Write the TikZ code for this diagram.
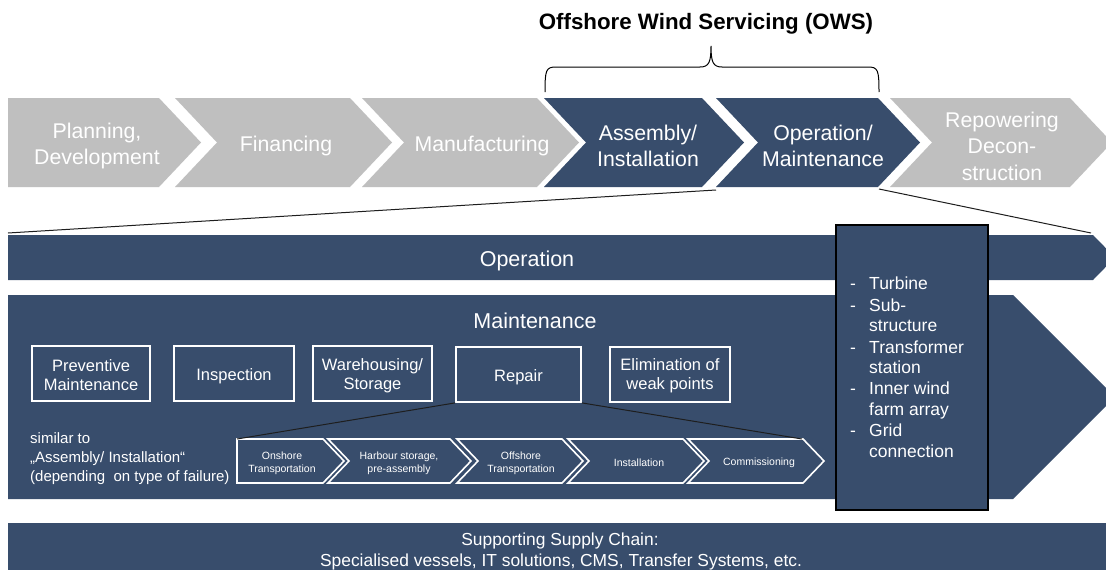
\documentclass[tikz,border=0pt]{standalone}
\usepackage{fontspec}
\setmainfont{Liberation Sans}
\definecolor{navy}{RGB}{56,77,108}
\definecolor{chgray}{RGB}{191,191,191}
\definecolor{linec}{RGB}{30,30,30}
\tikzset{
  chtxt/.style={text=white, font=\fontsize{21.3}{26.5}\selectfont, align=center, inner sep=0pt},
  bartxt/.style={text=white, font=\fontsize{21.5}{26}\selectfont, inner sep=0pt},
  boxtxt/.style={text=white, font=\fontsize{16.5}{19}\selectfont, align=center, inner sep=0pt},
  wbox/.style={draw=white, line width=1.8pt, minimum height=55pt, inner sep=0pt},
  smallch/.style={draw=white, line width=1.6pt, line join=miter},
  smalltxt/.style={text=white, font=\fontsize{10.5}{13}\selectfont, align=center, inner sep=0pt},
  listtxt/.style={text=white, font=\fontsize{17.5}{21}\selectfont, inner sep=0pt, anchor=base west},
  sidetxt/.style={text=white, font=\fontsize{15}{19}\selectfont, inner sep=0pt, anchor=base west},
  bottxt/.style={text=white, font=\fontsize{17.4}{21}\selectfont, inner sep=0pt, anchor=base},
  conn/.style={draw=linec, line width=1pt},
  bracec/.style={draw=black, line width=1pt},
}
\begin{document}
\begin{tikzpicture}[x=1pt,y=-1pt]
\fill[white] (0,0) rectangle (1106,570);
\useasboundingbox (0,0) rectangle (1106,570);
\begin{scope}
\clip (0,0) rectangle (1106,570);

% title and brace
\node[font=\bfseries\fontsize{22.3}{26}\selectfont, inner sep=0pt] (title) at (706,24) {Offshore Wind Servicing (OWS)};
\draw[bracec] (545,92) .. controls (545,70) and (546,67) .. (556,67) -- (700,67)
  .. controls (709,67) and (711,62) .. (711,46)
  .. controls (711,62) and (713,67) .. (722,67) -- (868,67)
  .. controls (878,67) and (879,70) .. (879,92);

% main chevrons
\fill[chgray] (8,98) -- (159,98) -- (201,142.5) -- (159,187) -- (8,187) -- cycle;
\fill[chgray] (175,98) -- (350,98) -- (392,142.5) -- (350,187) -- (175,187) -- (217,142.5) -- cycle;
\fill[chgray] (362,98) -- (537,98) -- (579,142.5) -- (537,187) -- (362,187) -- (404,142.5) -- cycle;
\fill[navy] (544,98) -- (702,98) -- (744,142.5) -- (702,187) -- (544,187) -- (586,142.5) -- cycle;
\fill[navy] (716,98) -- (878,98) -- (920,142.5) -- (878,187) -- (716,187) -- (758,142.5) -- cycle;
\fill[chgray] (890,98) -- (1070,98) -- (1112,142.5) -- (1070,187) -- (890,187) -- (932,142.5) -- cycle;

\node[chtxt] (t1) at (97,146) {Planning,\\Development};
\node[chtxt] (t2) at (286,146) {Financing};
\node[chtxt] (t3) at (482,146) {Manufacturing};
\node[chtxt] (t4) at (648,146) {Assembly/\\Installation};
\node[chtxt] (t5) at (823,146) {Operation/\\Maintenance};
\node[chtxt] (t6) at (1002,146) {Repowering\\Decon-\\struction};

\coordinate (c5bl) at (716,190);
\coordinate (c5br) at (879,189);

% operation bar
\fill[navy] (8,235) -- (1093,235) -- (1115,257.5) -- (1093,280) -- (8,280) -- cycle;
\coordinate (opL) at (8,233);
\coordinate (opR) at (1091,233);
\node[bartxt] (oper) at (527,261) {Operation};

% maintenance block
\fill[navy] (8,295) -- (1013,295) -- (1115,397) -- (1013,499) -- (8,499) -- cycle;
\node[bartxt] (maint) at (535,321) {Maintenance};

% zoom lines
\draw[conn] (c5bl) -- (opL);
\draw[conn] (c5br) -- (opR);

% boxes
\node[wbox, minimum width=118pt] (prev) at (91,373.5) {};
\node[wbox, minimum width=120pt] (insp) at (234,373.5) {};
\node[wbox, minimum width=119pt] (ware) at (372.5,373.5) {};
\node[wbox, minimum width=125pt] (repair) at (518.5,374.5) {};
\node[wbox, minimum width=120pt] (elim) at (670,374.5) {};
\node[boxtxt] (prevt) at (91,375.5) {Preventive\\Maintenance};
\node[boxtxt] (inspt) at (234,376) {Inspection};
\node[boxtxt] (waret) at (372.5,375.5) {Warehousing/\\Storage};
\node[boxtxt] (repairt) at (518.5,377) {Repair};
\node[boxtxt] (elimt) at (670,376) {Elimination of\\weak points};

% side text
\node[sidetxt] (sim1) at (30,443.5) {similar to};
\node[sidetxt] (sim2) at (30,462.5) {„Assembly/ Installation“};
\node[sidetxt] (sim3) at (30,481.5) {(depending\ \ on type of failure)};

% small chevrons
\draw[smallch] (237,439) -- (323,439) -- (344,461) -- (323,483) -- (237,483) -- cycle;
\draw[smallch] (328,439) -- (450,439) -- (471,461) -- (450,483) -- (328,483) -- (349,461) -- cycle;
\draw[smallch] (457,439) -- (562,439) -- (583,461) -- (562,483) -- (457,483) -- (478,461) -- cycle;
\draw[smallch] (568,439) -- (683,439) -- (704,461) -- (683,483) -- (568,483) -- (589,461) -- cycle;
\draw[smallch] (688,439) -- (803,439) -- (824,461) -- (803,483) -- (688,483) -- (709,461) -- cycle;
\coordinate (s1tl) at (237,439);
\coordinate (s5tr) at (802,439);
\node[smalltxt] (st1) at (282,463) {Onshore\\Transportation};
\node[smalltxt] (st2) at (399,463) {Harbour storage,\\pre-assembly};
\node[smalltxt] (st3) at (521,463) {Offshore\\Transportation};
\node[smalltxt] (st4) at (639,463) {Installation};
\node[smalltxt] (st5) at (759,463) {Commissioning};

\draw[conn] (repair.south west) -- (s1tl);
\draw[conn] (repair.south east) -- (s5tr);

% right list box
\node[draw=black, fill=navy, line width=1.2pt, minimum width=152pt, minimum height=285pt, inner sep=0pt] (listbox) at (912,367.5) {};
\foreach \yy/\tx/\nm in {289/Turbine/a, 311/Sub-/b, 353/Transformer/d, 394/Inner wind/f, 436/Grid/h}
  \node[listtxt] (dash\nm) at (850,\yy) {-};
\foreach \yy/\tx/\nm in {289/Turbine/a, 311/Sub-/b, 331/structure/c, 353/Transformer/d, 373.5/station/e, 394/Inner wind/f, 415/farm array/g, 436/Grid/h, 457/connection/i}
  \node[listtxt] (li\nm) at (869,\yy) {\tx};

% bottom bar
\fill[navy] (8,523) rectangle (1110,575);
\node[bottxt] (sup1) at (560,545) {Supporting Supply Chain:};
\node[bottxt] (sup2) at (561,566) {Specialised vessels, IT solutions, CMS, Transfer Systems, etc.};
\end{scope}
\end{tikzpicture}
\end{document}
